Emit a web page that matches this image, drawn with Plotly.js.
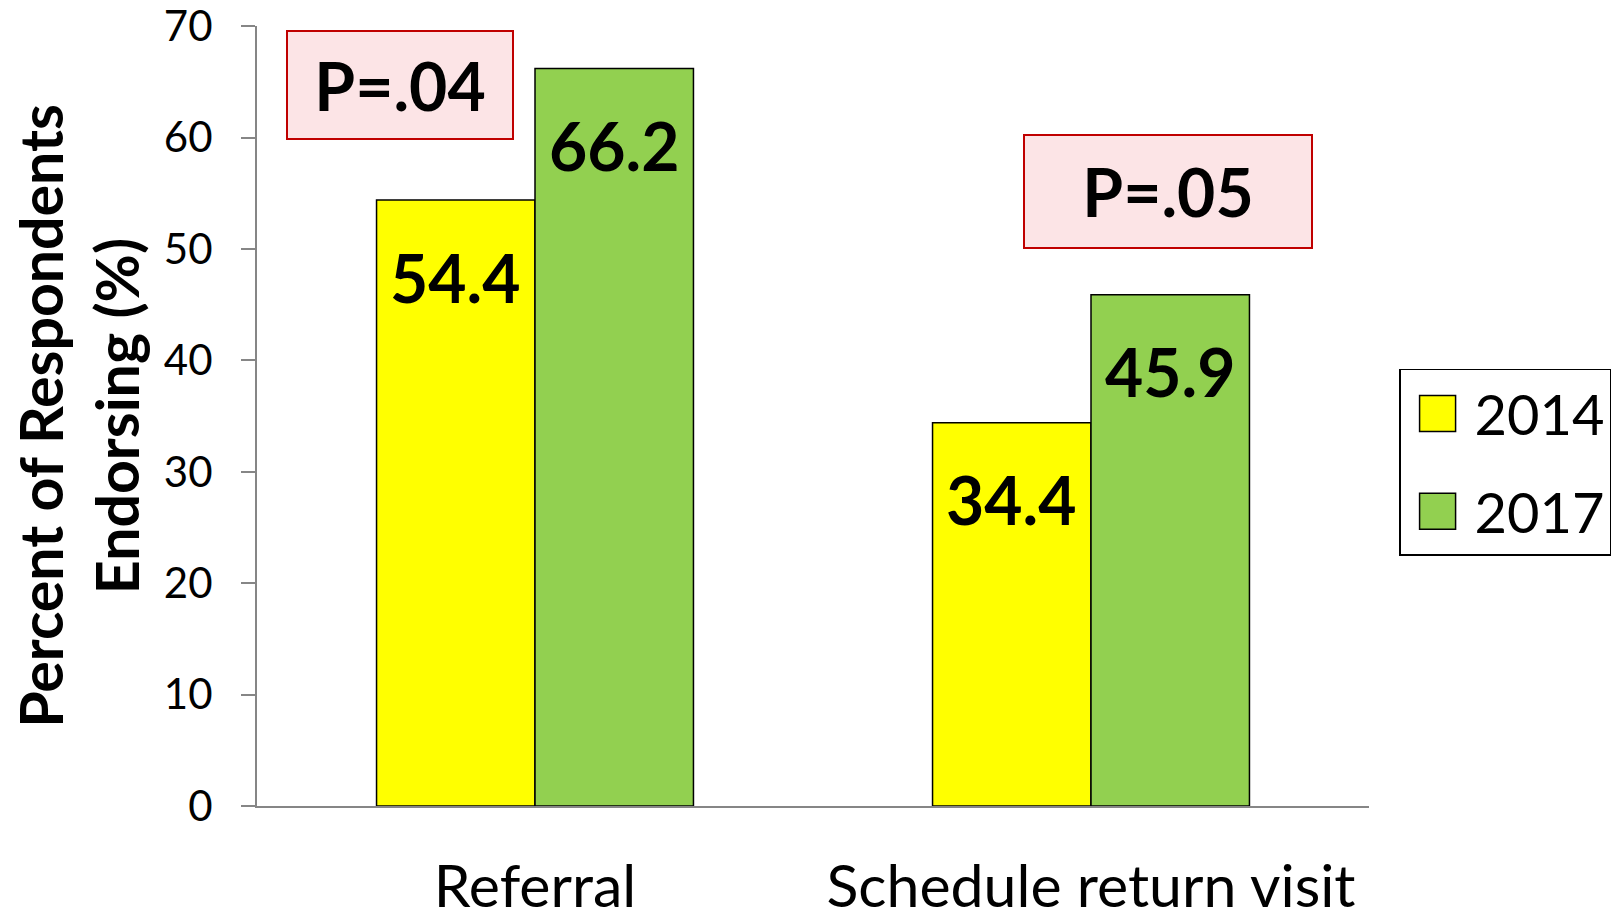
<!DOCTYPE html>
<html>
<head>
<meta charset="utf-8">
<script src="https://cdn.plot.ly/plotly-3.0.1.min.js"></script>
<style>
  html, body { margin: 0; padding: 0; background: #ffffff; }
  #chart { width: 1618px; height: 914px; }
</style>
</head>
<body>
<div id="chart"></div>
<script>
// Survey results: share of respondents endorsing each practice, 2014 vs 2017
const categories = ['Referral', 'Schedule return visit'];
const seriesNames = ['2014', '2017'];
const values2014 = [54.4, 34.4];
const values2017 = [66.2, 45.9];
const pLabels = ['P=.04', 'P=.05'];
const yTickValues = [0, 10, 20, 30, 40, 50, 60, 70];

const FONT = 'Lato, "Open Sans", sans-serif';
const BAR_GAP = 0.43;
const barColors = ['#FFFF00', '#92D050'];
const seriesValues = [values2014, values2017];

const traces = seriesValues.map((vals, i) => ({
  type: 'bar',
  name: seriesNames[i],
  legendgroup: seriesNames[i],
  x: categories,
  y: vals,
  marker: { color: barColors[i], line: { color: '#000000', width: 1.5 } },
  hoverinfo: 'skip'
}));

// value labels sit inside each bar, a little below its top
const barWidth = (1 - BAR_GAP) / seriesValues.length;
const valueLabels = [];
seriesValues.forEach((vals, s) => {
  const offset = (s - (seriesValues.length - 1) / 2) * barWidth;
  vals.forEach((v, c) => {
    valueLabels.push({
      xref: 'x', yref: 'y',
      x: c + offset, y: v,
      text: v.toFixed(1),
      showarrow: false,
      xanchor: 'center', yanchor: 'middle',
      yshift: -77,
      font: { family: FONT, size: 66, color: '#000000', weight: 'bold' }
    });
  });
});

// significance boxes above each pair
const pBoxes = [
  { x: 0.1287, y: 0.924, w: 224, h: 106 },
  { x: 0.819, y: 0.788, w: 286, h: 111 }
].map((b, i) => ({
  xref: 'paper', yref: 'paper',
  x: b.x, y: b.y,
  xanchor: 'center', yanchor: 'middle',
  width: b.w, height: b.h,
  text: pLabels[i],
  showarrow: false,
  bgcolor: '#FCE4E6',
  bordercolor: '#C00000',
  borderwidth: 2,
  borderpad: 0,
  font: { family: FONT, size: 66, color: '#000000', weight: 'bold' }
}));

const layout = {
  width: 1618,
  height: 914,
  margin: { l: 257, r: 249, t: 26, b: 108, pad: 0 },
  paper_bgcolor: '#ffffff',
  plot_bgcolor: '#ffffff',
  barmode: 'group',
  bargap: BAR_GAP,
  bargroupgap: 0,
  font: { family: FONT, color: '#000000' },
  showlegend: true,
  legend: {
    xref: 'container', yref: 'container',
    x: 0.8647, y: 0.5963,
    xanchor: 'left', yanchor: 'top',
    bordercolor: '#000000',
    borderwidth: 1.5,
    bgcolor: '#ffffff',
    traceorder: 'grouped',
    tracegroupgap: 22,
    itemwidth: 64,
    font: { family: FONT, size: 56, color: '#000000' }
  },
  xaxis: {
    type: 'category',
    showline: true,
    linecolor: '#868686',
    linewidth: 2,
    ticks: '',
    ticklabelstandoff: 28,
    tickfont: { family: FONT, size: 59, color: '#000000' },
    showgrid: false,
    zeroline: false
  },
  yaxis: {
    range: [0, 70.02],
    tickmode: 'array',
    tickvals: yTickValues,
    ticktext: yTickValues.map(String),
    showline: true,
    linecolor: '#868686',
    linewidth: 2,
    ticks: 'outside',
    ticklen: 14,
    tickwidth: 2,
    tickcolor: '#868686',
    ticklabelstandoff: 20,
    ticklabeloverflow: 'allow',
    tickfont: { family: FONT, size: 42, color: '#000000' },
    showgrid: false,
    zeroline: false,
    title: {
      text: 'Percent of Respondents<br>Endorsing (%)',
      font: { family: FONT, size: 59, color: '#000000', weight: 'bold' },
      standoff: 5
    }
  },
  annotations: valueLabels.concat(pBoxes)
};

Plotly.newPlot('chart', traces, layout, { displayModeBar: false, staticPlot: true }).then(gd => {
  // enlarge the legend swatches
  gd.querySelectorAll('.legend .legendpoints path').forEach(p => {
    const t = p.getAttribute('transform') || '';
    p.setAttribute('transform', t + ' scale(3)');
    p.style.vectorEffect = 'non-scaling-stroke';
    p.style.strokeWidth = '1.5px';
    p.style.stroke = '#000000';
  });
});
</script>
</body>
</html>
